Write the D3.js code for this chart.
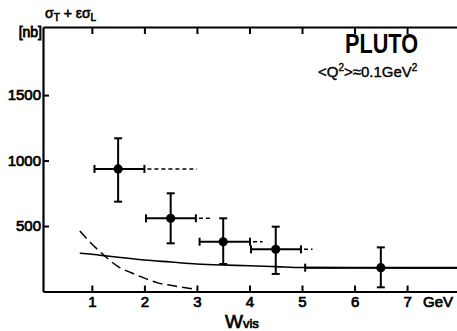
<!DOCTYPE html>
<html>
<head>
<meta charset="utf-8">
<script src="https://cdn.jsdelivr.net/npm/d3@7"></script>
<style>
  body { margin: 0; background: #fff; }
  svg { display: block; font-family: "Liberation Sans", Arial, sans-serif; }
</style>
</head>
<body>
<div id="chart"></div>
<script>
// data points (W_vis bins, sigma in nb)
const wCenter = [1.5, 2.5, 3.5, 4.5, 6.5];
const wLow = [1.05, 2.03, 3.05, 4.03, 5.06];
const wHigh = [2.0, 2.98, 4.01, 4.98, 7.95];
const sigma = [936, 559, 380, 322, 182];
const sigmaLow = [686, 368, 210, 134, 32];
const sigmaHigh = [1170, 750, 559, 495, 337];
// dotted extension of the horizontal bars
const dashEnd = [3.0, 3.3, 4.25, 5.2, null];

// solid curve
const wSolid = [0.77, 1.0, 1.25, 1.5, 2.0, 2.5, 3.0, 3.5, 4.0, 4.5, 5.0, 6.0, 7.0, 7.95];
const solidVals = [292, 284, 273, 261, 240, 225, 210, 202, 197, 190, 183, 181, 180, 179];

// dashed curve
const wDashed = [0.77, 1.0, 1.25, 1.5, 1.75, 2.0, 2.25, 2.5, 2.75, 3.0];
const dashedVals = [462, 363, 270, 190, 143, 102, 66, 47, 31, 15];

const xTicks = [1, 2, 3, 4, 5, 6, 7];
const yTicks = [500, 1000, 1500];

const W = 457, H = 331;
const margin = { top: 27, right: 0, bottom: 39.5, left: 43 };

const svg = d3.select("#chart").append("svg")
  .attr("width", W).attr("height", H);

const x = d3.scaleLinear().domain([0.07, 7.95]).range([margin.left, W - margin.right]);
const y = d3.scaleLinear().domain([0, 2020]).range([H - margin.bottom, margin.top]);

// axes
const xAxis = svg.append("g")
  .attr("transform", `translate(0,${H - margin.bottom})`)
  .call(d3.axisBottom(x).tickValues(xTicks).tickSizeInner(-6).tickSizeOuter(0).tickPadding(5).tickFormat(d3.format("d")));
const xTop = svg.append("g")
  .attr("transform", `translate(0,${margin.top})`)
  .call(d3.axisTop(x).tickValues(xTicks).tickSizeInner(-7).tickSizeOuter(0).tickFormat(""));
const yAxis = svg.append("g")
  .attr("transform", `translate(${margin.left},0)`)
  .call(d3.axisLeft(y).tickValues(yTicks).tickSizeInner(-6).tickSizeOuter(0).tickPadding(2).tickFormat(d3.format("d")));

[xAxis, xTop, yAxis].forEach(g => {
  g.select(".domain").attr("stroke", "#000").attr("stroke-width", 2.2);
  g.selectAll(".tick line").attr("stroke", "#000").attr("stroke-width", 2);
  g.selectAll(".tick text")
    .attr("fill", "#000")
    .attr("stroke", "#000").attr("stroke-width", 0.7)
    .style("font-size", "15px");
});

// axis labels
svg.append("text")
  .attr("x", x(7) + 16).attr("y", 307)
  .attr("stroke", "#000").attr("stroke-width", 0.7)
  .style("font-size", "15px").text("GeV");

const wl = svg.append("text").attr("x", 225).attr("y", 328)
  .attr("stroke", "#000").attr("stroke-width", 0.7);
wl.append("tspan").style("font-size", "19px").text("W");
wl.append("tspan").style("font-size", "13px").text("vis");

svg.append("text")
  .attr("x", 42).attr("y", 37).attr("text-anchor", "end")
  .attr("stroke", "#000").attr("stroke-width", 0.8)
  .style("font-size", "14px").text("[nb]");

const sl = svg.append("text").attr("x", 45).attr("y", 18)
  .attr("stroke", "#000").attr("stroke-width", 0.6)
  .style("font-size", "14px");
sl.append("tspan").text("σ");
sl.append("tspan").attr("dy", 3).style("font-size", "10px").text("T");
sl.append("tspan").attr("dy", -3).text(" + εσ");
sl.append("tspan").attr("dy", 3).style("font-size", "10px").text("L");

svg.append("text")
  .attr("x", 345).attr("y", 53)
  .attr("textLength", 73).attr("lengthAdjust", "spacingAndGlyphs")
  .style("font-size", "27px").style("font-weight", "bold")
  .text("PLUTO");

const ql = svg.append("text").attr("x", 318).attr("y", 77)
  .attr("stroke", "#000").attr("stroke-width", 0.4)
  .style("font-size", "15px");
ql.append("tspan").text("<Q");
ql.append("tspan").attr("dy", -6).style("font-size", "10px").text("2");
ql.append("tspan").attr("dy", 6).text(">≈0.1GeV");
ql.append("tspan").attr("dy", -6).style("font-size", "10px").text("2");

// curves
const solidLine = d3.line().curve(d3.curveMonotoneX)
  .x((d, i) => x(wSolid[i])).y(d => y(d));
svg.append("path").attr("d", solidLine(solidVals))
  .attr("fill", "none").attr("stroke", "#000").attr("stroke-width", 1.6);

const dashedLine = d3.line().curve(d3.curveMonotoneX)
  .x((d, i) => x(wDashed[i])).y(d => y(d));
svg.append("path").attr("d", dashedLine(dashedVals))
  .attr("fill", "none").attr("stroke", "#000").attr("stroke-width", 1.5)
  .attr("stroke-dasharray", "10,5");

// data points
const pts = wCenter.map((w, i) => ({
  w, lo: wLow[i], hi: wHigh[i], s: sigma[i], sLo: sigmaLow[i], sHi: sigmaHigh[i], dEnd: dashEnd[i]
}));

const g = svg.append("g").attr("stroke", "#000").attr("stroke-width", 2);

// dotted extensions
g.selectAll(".ext").data(pts.filter(d => d.dEnd != null)).join("line")
  .attr("x1", d => x(d.hi) + 3).attr("x2", d => x(d.dEnd))
  .attr("y1", d => y(d.s)).attr("y2", d => y(d.s))
  .attr("stroke-width", 1.5).attr("stroke-dasharray", "4,3");

// horizontal bars
g.selectAll(".hbar").data(pts).join("line")
  .attr("x1", d => x(d.lo)).attr("x2", d => x(d.hi))
  .attr("y1", d => y(d.s)).attr("y2", d => y(d.s));
g.selectAll(".hcapL").data(pts).join("line")
  .attr("x1", d => x(d.lo)).attr("x2", d => x(d.lo))
  .attr("y1", d => y(d.s) - 4).attr("y2", d => y(d.s) + 4);
g.selectAll(".hcapR").data(pts.filter(d => d.hi < 7.9)).join("line")
  .attr("x1", d => x(d.hi)).attr("x2", d => x(d.hi))
  .attr("y1", d => y(d.s) - 4).attr("y2", d => y(d.s) + 4);

// vertical bars
g.selectAll(".vbar").data(pts).join("line")
  .attr("x1", d => x(d.w)).attr("x2", d => x(d.w))
  .attr("y1", d => y(d.sLo)).attr("y2", d => y(d.sHi));
g.selectAll(".vcapT").data(pts).join("line")
  .attr("x1", d => x(d.w) - 4).attr("x2", d => x(d.w) + 4)
  .attr("y1", d => y(d.sHi)).attr("y2", d => y(d.sHi));
g.selectAll(".vcapB").data(pts).join("line")
  .attr("x1", d => x(d.w) - 4).attr("x2", d => x(d.w) + 4)
  .attr("y1", d => y(d.sLo)).attr("y2", d => y(d.sLo));

svg.append("g").selectAll("circle").data(pts).join("circle")
  .attr("cx", d => x(d.w)).attr("cy", d => y(d.s)).attr("r", 4.6)
  .attr("fill", "#000");
</script>
</body>
</html>
